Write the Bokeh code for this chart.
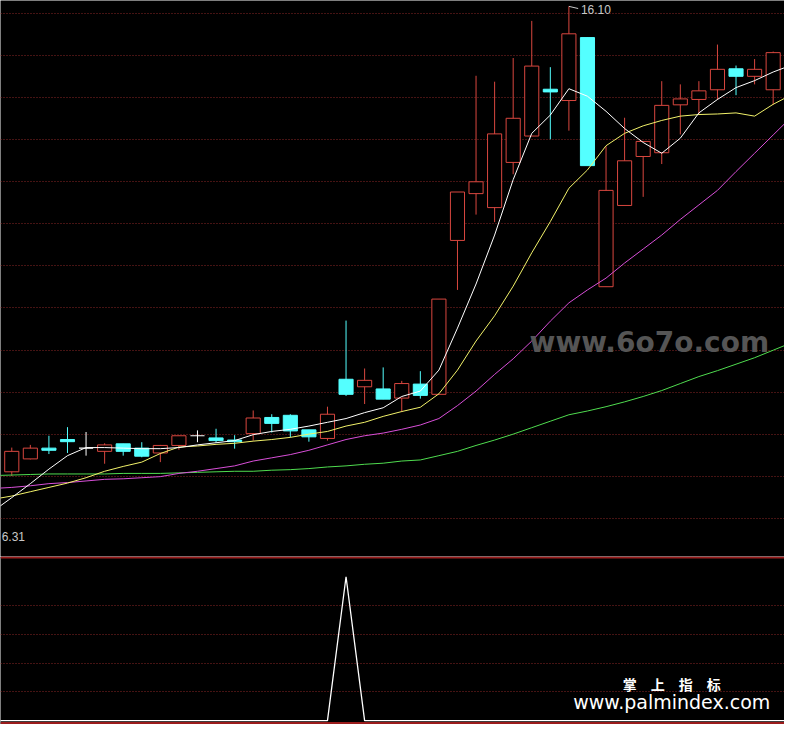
from bokeh.plotting import figure
from bokeh.layouts import column
from bokeh.models import ColumnDataSource, Range1d, FixedTicker, Grid, Span
from bokeh.core.properties import value
from bokeh.embed import file_html
from bokeh.resources import INLINE

# ---------------- data ----------------
bars = list(range(42))
opens = [7.45, 7.69, 7.89, 8.05, 7.89, 7.83, 7.97, 7.89, 7.80, 7.94, 8.12, 8.08, 8.04, 8.16,
         8.46, 8.50, 8.23, 8.07, 9.17, 9.03, 8.99, 8.82, 9.08, 8.89, 11.75, 12.62, 12.36, 13.20,
         13.69, 14.56, 14.35, 15.52, 10.89, 12.40, 13.31, 13.38, 14.27, 14.37, 14.55, 14.94, 14.80, 14.55]
highs = [7.90, 7.95, 8.12, 8.28, 8.19, 7.98, 7.97, 8.00, 7.95, 8.12, 8.22, 8.25, 8.13, 8.59,
         8.52, 8.52, 8.23, 8.66, 10.26, 9.37, 9.39, 9.14, 9.32, 10.66, 12.65, 14.81, 14.70, 15.14,
         15.83, 14.97, 16.10, 15.52, 13.50, 14.03, 13.59, 14.71, 14.65, 14.71, 15.39, 15.00, 15.12, 15.26]
lows = [7.37, 7.68, 7.78, 7.80, 7.75, 7.60, 7.75, 7.72, 7.63, 7.86, 8.00, 7.99, 7.88, 8.03,
        8.18, 8.09, 8.01, 8.03, 8.86, 8.71, 8.80, 8.56, 8.81, 8.89, 10.83, 12.23, 12.09, 12.98,
        13.69, 13.63, 13.79, 13.14, 10.89, 12.40, 12.56, 13.17, 13.72, 14.09, 14.36, 14.45, 14.65, 14.27]
closes = [7.83, 7.89, 7.85, 8.01, 7.89, 7.95, 7.83, 7.74, 7.94, 8.12, 8.12, 8.03, 8.01, 8.45,
          8.35, 8.21, 8.10, 8.52, 8.89, 9.15, 8.80, 9.09, 8.87, 10.66, 12.65, 12.84, 13.73, 14.02,
          14.99, 14.51, 15.59, 13.14, 12.68, 13.23, 13.59, 14.26, 14.38, 14.53, 14.93, 14.80, 14.93, 15.24]

# moving averages (one bar beyond each edge of the window)
ma_bars = list(range(-1, 43))
ma5 = [6.72, 6.97, 7.23, 7.50, 7.75, 7.90, 7.90, 7.89, 7.88, 7.88, 7.90, 7.95, 7.99, 8.03, 8.14,
       8.20, 8.24, 8.30, 8.37, 8.44, 8.55, 8.64, 8.85, 8.95, 9.34, 10.12, 10.94, 11.85, 12.88,
       13.74, 14.08, 14.57, 14.43, 14.15, 13.83, 13.57, 13.37, 13.65, 14.12, 14.37, 14.59, 14.72,
       14.88, 15.01]
ma10 = [6.94, 7.00, 7.08, 7.16, 7.24, 7.34, 7.46, 7.55, 7.63, 7.79, 7.91, 7.93, 7.96, 7.98, 8.02,
        8.05, 8.09, 8.15, 8.20, 8.30, 8.37, 8.48, 8.57, 8.65, 8.90, 9.34, 9.88, 10.35, 10.90,
        11.52, 12.10, 12.72, 13.06, 13.51, 13.74, 13.88, 13.98, 14.06, 14.09, 14.10, 14.12, 14.06,
        14.28, 14.46]
ma20 = [7.14, 7.16, 7.19, 7.23, 7.25, 7.28, 7.31, 7.32, 7.34, 7.36, 7.42, 7.46, 7.51, 7.56, 7.65,
        7.71, 7.77, 7.85, 7.95, 8.05, 8.12, 8.17, 8.24, 8.32, 8.44, 8.68, 8.95, 9.26, 9.55,
        9.88, 10.25, 10.59, 10.83, 11.05, 11.33, 11.59, 11.85, 12.14, 12.41, 12.68, 13.03, 13.37,
        13.71, 14.05]
ma60 = [7.38, 7.39, 7.40, 7.41, 7.41, 7.41, 7.41, 7.42, 7.42, 7.42, 7.43, 7.44, 7.45, 7.46, 7.46,
        7.48, 7.49, 7.51, 7.54, 7.56, 7.59, 7.61, 7.65, 7.67, 7.75, 7.83, 7.94, 8.04, 8.15,
        8.27, 8.39, 8.51, 8.58, 8.66, 8.75, 8.85, 8.96, 9.09, 9.22, 9.33, 9.45, 9.57, 9.71, 9.85]

# lower indicator panel
signal = [0, 0, 0, 0, 0, 0, 0, 0, 0, 0, 0, 0, 0, 0, 0, 0, 0, 0, 0, 5, 0, 0,
          0, 0, 0, 0, 0, 0, 0, 0, 0, 0, 0, 0, 0, 0, 0, 0, 0, 0, 0, 0, 0, 0]

price_grid = [15.97, 15.19, 14.40, 13.62, 12.84, 12.06, 11.28, 10.50, 9.71, 8.93, 8.15, 7.37, 6.59]
signal_grid = [1, 2, 3, 4]

low_label_value = 6.31   # window low marker (its bar lies left of the view)
low_label_bar = -2

# ---------------- styling ----------------
UP = "#d9473f"
DOWN = "#54ffff"
FLAT = "#ffffff"
GRID = "#8a2626"
BORDER = "#9a1c1c"
BODY_W = 0.76

xr = Range1d(-0.607, 41.61)

p = figure(width=784, height=556, x_range=xr, y_range=Range1d(5.876, 16.209),
           output_backend="svg", toolbar_location=None,
           x_axis_location=None, y_axis_location=None,
           background_fill_color="black", border_fill_color="black",
           min_border=0, outline_line_color=None)
p.grid.visible = False
p.add_layout(Grid(dimension=1, ticker=FixedTicker(ticks=price_grid),
                  grid_line_color=GRID, grid_line_dash="1 2", grid_line_width=1))

up_src = {"x": [], "o": [], "c": [], "h": [], "l": []}
dn_src = {"x": [], "o": [], "c": [], "h": [], "l": []}
fl_src = {"x": [], "o": [], "c": [], "h": [], "l": [], "x0": [], "x1": []}
for i, o, h, l, c in zip(bars, opens, highs, lows, closes):
    if c > o:
        d = up_src
    elif c < o:
        d = dn_src
    else:
        d = fl_src
        d["x0"].append(i - BODY_W / 2)
        d["x1"].append(i + BODY_W / 2)
    d["x"].append(i); d["o"].append(o); d["c"].append(c); d["h"].append(h); d["l"].append(l)

up = ColumnDataSource(up_src)
dn = ColumnDataSource(dn_src)
fl = ColumnDataSource(fl_src)

p.segment("x", "h", "x", "l", source=up, line_color=UP, line_width=1)
p.vbar(x="x", bottom="o", top="c", width=BODY_W, source=up,
       fill_color="black", line_color=UP, line_width=1)
p.segment("x", "h", "x", "l", source=dn, line_color=DOWN, line_width=1)
p.vbar(x="x", bottom="c", top="o", width=BODY_W, source=dn,
       fill_color=DOWN, line_color=DOWN, line_width=1)
p.segment("x", "h", "x", "l", source=fl, line_color=FLAT, line_width=1)
p.segment("x0", "o", "x1", "o", source=fl, line_color=FLAT, line_width=1.2)

p.line(ma_bars, ma60, line_color="#4fdc4f", line_width=1)
p.line(ma_bars, ma20, line_color="#d84fd8", line_width=1)
p.line(ma_bars, ma10, line_color="#f2f26a", line_width=1)
p.line(ma_bars, ma5, line_color="#ffffff", line_width=1)

# high / low markers
hi_idx = max(bars, key=lambda k: highs[k])
hi_val = highs[hi_idx]
p.line([hi_idx, hi_idx + 0.5], [hi_val, hi_val - 0.04], line_color="#c8c8c8", line_width=1)
p.text(x=[hi_idx], y=[hi_val], text=[f"{hi_val:.2f}"], x_offset=12, y_offset=3,
       text_baseline="middle", text_align="left", text_color="#c8c8c8",
       text_font=value("Liberation Sans"), text_font_size="12px")
p.text(x=[low_label_bar], y=[low_label_value], text=[f"{low_label_value:.2f}"], x_offset=27,
       y_offset=3, text_baseline="middle", text_align="left", text_color="#c8c8c8",
       text_font=value("Liberation Sans"), text_font_size="12px")

# watermark
p.text(x=[34.33], y=[9.86], text=["www.6o7o.com"], text_align="center",
       text_baseline="middle", text_color="#555555", text_font_style="bold",
       text_font=value("DejaVu Sans"), text_font_size="28px")

# ---------------- lower panel ----------------
q = figure(width=784, height=168, x_range=xr, y_range=Range1d(-0.136, 5.704),
           output_backend="svg", toolbar_location=None,
           x_axis_location=None, y_axis_location=None,
           background_fill_color="black", border_fill_color="black",
           min_border=0, outline_line_color=None)
q.grid.visible = False
q.add_layout(Grid(dimension=1, ticker=FixedTicker(ticks=signal_grid),
                  grid_line_color=GRID, grid_line_dash="1 2", grid_line_width=1))
q.add_layout(Span(location=5.67, dimension="width", line_color=BORDER, line_width=2))
q.add_layout(Span(location=-0.085, dimension="width", line_color=BORDER, line_width=2))
q.line(ma_bars, signal, line_color="#ffffff", line_width=1.3)

q.text(x=[35.54], y=[1.28], text=["掌\u3000上\u3000指\u3000标"], text_align="center",
       text_baseline="middle", text_color="#ffffff", text_font_style="bold",
       text_font=value("Noto Sans CJK SC"), text_font_size="14px")
q.text(x=[35.54], y=[0.66], text=["www.palmindex.com"], text_align="center",
       text_baseline="middle", text_color="#ffffff",
       text_font=value("DejaVu Sans"), text_font_size="19px")

layout = column(p, q, spacing=0)
open("out.html", "w").write(file_html(layout, INLINE))
